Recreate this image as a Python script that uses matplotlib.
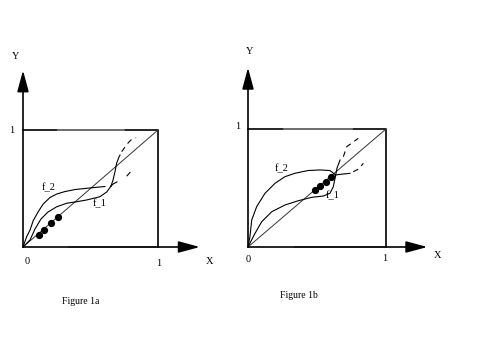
import matplotlib.pyplot as plt

# ---- Figure 1a data (unit-square coordinates) ----
a_f2_x = [0.0, 0.027, 0.052, 0.076, 0.113, 0.150, 0.200, 0.250, 0.311, 0.385, 0.459, 0.533, 0.607]
a_f2_y = [0.0, 0.088, 0.145, 0.226, 0.302, 0.368, 0.423, 0.453, 0.474, 0.491, 0.500, 0.509, 0.517]

a_f1_x = [0.0, 0.052, 0.089, 0.133, 0.185, 0.250, 0.324, 0.398, 0.472, 0.570, 0.620, 0.652]
a_f1_y = [0.0, 0.060, 0.154, 0.239, 0.299, 0.344, 0.374, 0.387, 0.402, 0.430, 0.470, 0.521]

a_flat_x = [0.652, 0.667, 0.696]
a_flat_y = [0.521, 0.538, 0.556]
a_flat_dash_x = [0.768, 0.810]
a_flat_dash_y = [0.605, 0.660]

a_steep_x = [0.652, 0.667, 0.681, 0.694, 0.711, 0.719]
a_steep_y = [0.521, 0.573, 0.641, 0.718, 0.769, 0.786]
a_steep_dash_x = [0.731, 0.776, 0.800, 0.837]
a_steep_dash_y = [0.815, 0.886, 0.915, 0.934]

a_dots_x = [0.119, 0.158, 0.205, 0.257]
a_dots_y = [0.100, 0.148, 0.203, 0.254]

# ---- Figure 1b data ----
b_f2_x = [0.0, 0.014, 0.027, 0.063, 0.123, 0.196, 0.268, 0.341, 0.435, 0.522, 0.594, 0.630]
b_f2_y = [0.0, 0.087, 0.229, 0.342, 0.455, 0.540, 0.596, 0.625, 0.648, 0.653, 0.648, 0.615]

b_f1_x = [0.0, 0.051, 0.099, 0.172, 0.268, 0.364, 0.462, 0.546, 0.594, 0.618, 0.634]
b_f1_y = [0.0, 0.116, 0.214, 0.299, 0.356, 0.392, 0.421, 0.432, 0.455, 0.511, 0.600]

b_flat_x = [0.630, 0.693, 0.739]
b_flat_y = [0.610, 0.619, 0.624]
b_flat_dash_x = [0.763, 0.800, 0.836]
b_flat_dash_y = [0.638, 0.660, 0.709]

b_steep_x = [0.634, 0.645, 0.667]
b_steep_y = [0.600, 0.669, 0.737]
b_steep_dash_x = [0.691, 0.715, 0.751, 0.799]
b_steep_dash_y = [0.765, 0.850, 0.879, 0.921]

b_dots_x = [0.489, 0.525, 0.562, 0.598]
b_dots_y = [0.483, 0.519, 0.551, 0.593]

FONT = "Liberation Serif"


def draw_panel(ax, f2, f1, flat, flat_dash, steep, steep_dash, dots,
               f2_pos, f1_pos, x_end, y_end, lab):
    ax.set_xlim(0, 1)
    ax.set_ylim(0, 1)
    ax.axis("off")

    # axes with arrow heads
    arrow = dict(arrowstyle="-|>,head_length=1.3,head_width=0.35",
                 color="black", lw=1.2, mutation_scale=10,
                 shrinkA=0, shrinkB=0)
    ax.annotate("", xy=(x_end, 0), xytext=(0, 0), arrowprops=arrow,
                annotation_clip=False)
    ax.annotate("", xy=(0, y_end), xytext=(0, 0), arrowprops=arrow,
                annotation_clip=False)

    # box and diagonal
    ax.plot([0, 1, 1], [1, 1, 0], color="black", lw=1.2, clip_on=False)
    ax.plot([0.26, 0.75], [1, 1], color="#808080", lw=1.2, clip_on=False)
    ax.plot([0.34, 0.99], [0, 0], color="#808080", lw=1.2, clip_on=False)
    ax.plot([0, 1], [0, 1], color="#333333", lw=0.7, clip_on=False)

    # curves
    kw = dict(color="black", lw=0.8, clip_on=False)
    ax.plot(*f2, **kw)
    ax.plot(*f1, **kw)
    ax.plot(*flat, **kw)
    ax.plot(*steep, **kw)
    dash = dict(color="black", lw=0.8, clip_on=False, linestyle=(0, (5, 4)))
    ax.plot(*flat_dash, **dash)
    ax.plot(*steep_dash, **dash)
    ax.plot(*dots, "o", color="black", ms=4.2, clip_on=False)

    tkw = dict(fontfamily=FONT, fontsize=7.5, ha="center", va="center")
    ax.text(f2_pos[0], f2_pos[1], "f_2", ha="left", va="center",
            fontfamily=FONT, fontsize=7.5)
    ax.text(f1_pos[0], f1_pos[1], "f_1", ha="left", va="center",
            fontfamily=FONT, fontsize=7.5)
    for x, y, s in lab:
        ax.text(x, y, s, **tkw)


fig = plt.figure(figsize=(4.8, 3.6), dpi=100)

ax_a = fig.add_axes([23 / 480, 113 / 360, 135 / 480, 117 / 360])
draw_panel(ax_a, (a_f2_x, a_f2_y), (a_f1_x, a_f1_y),
           (a_flat_x, a_flat_y), (a_flat_dash_x, a_flat_dash_y),
           (a_steep_x, a_steep_y), (a_steep_dash_x, a_steep_dash_y),
           (a_dots_x, a_dots_y),
           (0.135, 0.51), (0.515, 0.368), 1.31, 1.51,
           [(-0.052, 1.624, "Y"), (-0.081, 1.0, "1"), (0.03, -0.128, "0"),
            (1.007, -0.137, "1"), (1.378, -0.128, "X")])

ax_b = fig.add_axes([248 / 480, 113 / 360, 138 / 480, 118 / 360])
draw_panel(ax_b, (b_f2_x, b_f2_y), (b_f1_x, b_f1_y),
           (b_flat_x, b_flat_y), (b_flat_dash_x, b_flat_dash_y),
           (b_steep_x, b_steep_y), (b_steep_dash_x, b_steep_dash_y),
           (b_dots_x, b_dots_y),
           (0.19, 0.667), (0.56, 0.435), 1.30, 1.52,
           [(0.014, 1.655, "Y"), (-0.078, 1.02, "1"), (0.002, -0.11, "0"),
            (0.993, -0.096, "1"), (1.372, -0.076, "X")])

fig.text(81 / 480, 1 - 302 / 360, "Figure 1a", fontfamily=FONT, fontsize=7,
         ha="center", va="center")
fig.text(299 / 480, 1 - 296 / 360, "Figure 1b", fontfamily=FONT, fontsize=7,
         ha="center", va="center")

fig.savefig("out.png", dpi=100)
